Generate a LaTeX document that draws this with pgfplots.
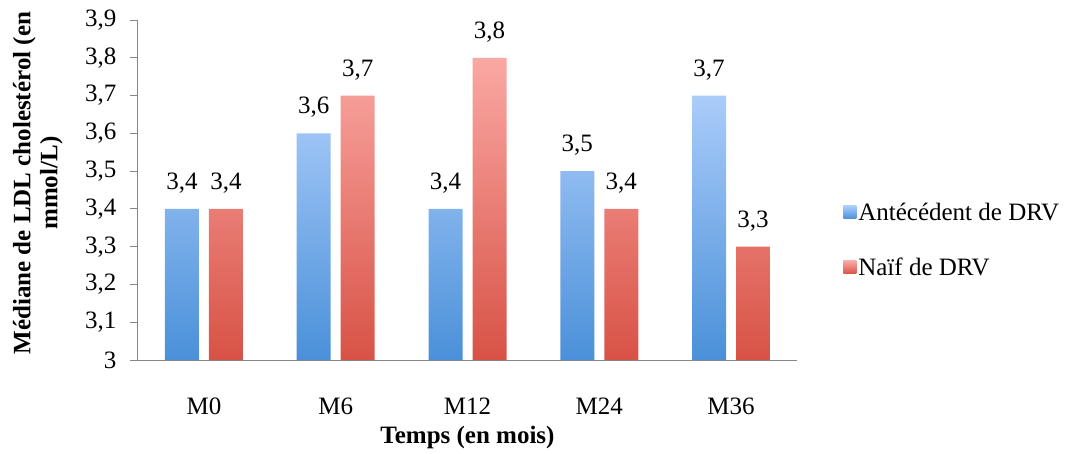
\documentclass[border=0pt]{standalone}
\usepackage{fontspec}
\setmainfont{Liberation Serif}
\usepackage{pgfplots}
\pgfplotsset{compat=1.18}
\definecolor{btop}{RGB}{170,204,250}
\definecolor{bbot}{RGB}{74,144,217}
\definecolor{rtop}{RGB}{250,168,163}
\definecolor{rbot}{RGB}{216,82,70}
\definecolor{axgray}{RGB}{135,135,135}
\newcommand\f{\fontsize{25}{27}\selectfont}
\begin{document}
\begin{tikzpicture}
\begin{axis}[
  name=ax,
  scale only axis,
  width=659pt, height=340pt,
  ybar,
  bar width=34pt,
  xmin=-0.5, xmax=4.5,
  ymin=3, ymax=3.9,
  ytick={3,3.1,...,3.9},
  xtick=data,
  xticklabels={M0,M6,M12,M24,M36},
  axis x line=bottom,
  axis y line=left,
  axis line style={axgray, line width=1pt, -},
  tick align=outside,
  ytick pos=left,
  ytick style={draw=axgray, line width=1pt},
  major tick length=8pt,
  xtick style={draw=none},
  /pgf/number format/.cd, use comma, fixed, precision=1, assume math mode=true,
  /pgfplots/.cd,
  ticklabel style={font=\f},
  yticklabel style={xshift=-10pt},
  xticklabel style={yshift=-26pt},
  xlabel={\textbf{Temps (en mois)}},
  xlabel style={font=\f, at={(axis description cs:0.5,0)}, anchor=center, yshift=-77pt},
  ylabel={\textbf{Médiane de LDL cholestérol (en}\\\textbf{mmol/L)}},
  ylabel style={font=\f, align=center, at={(axis description cs:-0.152,0.52)}, anchor=center},
  nodes near coords,
  every node near coord/.append style={font=\f, yshift=12pt},
  legend style={at={(axis description cs:1.07,0.353)}, anchor=west, draw=none, fill=none,
    font=\f, row sep=32pt, inner sep=0pt, /tikz/every even column/.append style={column sep=4pt}},
  legend cell align=left,
  legend image code/.code={\path[#1] (0pt,-6.5pt) rectangle (13pt,6.5pt);},
  clip=false,
]
\addplot[draw=none, top color=btop, bottom color=bbot, bar shift=-22pt]
  coordinates {(0,3.4) (1,3.6) (2,3.4) (3,3.5) (4,3.7)};
\addplot[draw=none, top color=rtop, bottom color=rbot, bar shift=22pt]
  coordinates {(0,3.4) (1,3.7) (2,3.8) (3,3.4) (4,3.3)};
\legend{Antécédent de DRV, Naïf de DRV}
\end{axis}
\path ([shift={(-138pt,-93pt)}]ax.south west) rectangle ([shift={(286pt,20pt)}]ax.north east);
\end{tikzpicture}
\end{document}
